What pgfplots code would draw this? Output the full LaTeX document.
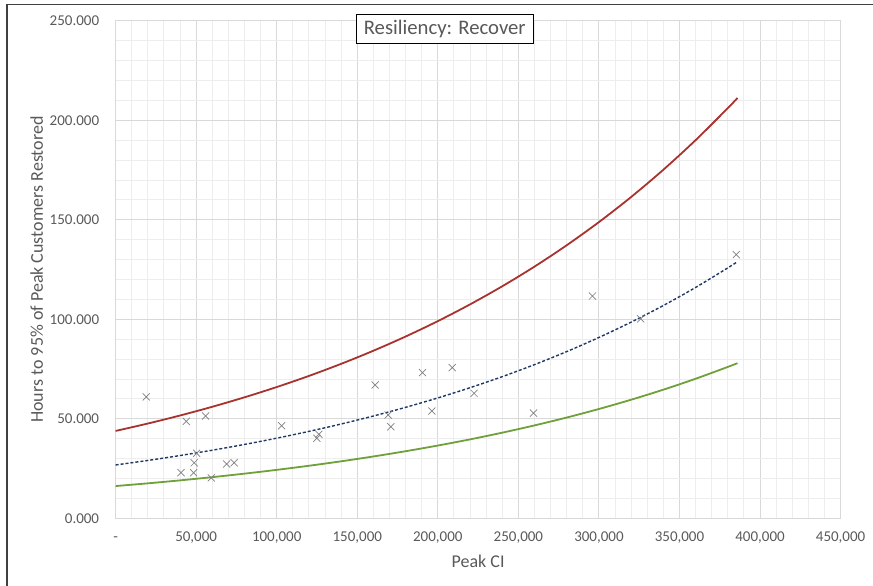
\documentclass[border=0pt]{standalone}
\usepackage{pgfplots}
\pgfplotsset{compat=1.18}
\usepackage{fontspec}
\setmainfont{Carlito}
\definecolor{txt}{HTML}{595959}
\definecolor{gridmaj}{HTML}{D9D9D9}
\definecolor{gridmin}{HTML}{EDEDED}
\definecolor{redc}{HTML}{A8322D}
\definecolor{greenc}{HTML}{70A03A}
\definecolor{navyc}{HTML}{203864}
\definecolor{markc}{HTML}{808080}
\begin{document}
\begin{tikzpicture}
\path[use as bounding box] (-115.6pt,-67.7pt) rectangle (757.4pt,518.3pt);
\draw[line width=1.5pt, color=black!75] (-108.6pt,-67.7pt) -- (-108.6pt,513.8pt) -- (757.4pt,513.8pt);
\begin{axis}[
  at={(0,0)}, anchor=south west, scale only axis,
  width=725pt, height=497.5pt,
  xmin=0, xmax=450000, ymin=0, ymax=250,
  xtick={0,50000,100000,150000,200000,250000,300000,350000,400000,450000},
  xticklabels={-,{50,000},{100,000},{150,000},{200,000},{250,000},{300,000},{350,000},{400,000},{450,000}},
  ytick={0,50,100,150,200,250},
  yticklabels={0.000,50.000,100.000,150.000,200.000,250.000},
  minor x tick num=4, minor y tick num=4,
  grid=both,
  major grid style={color=gridmaj, line width=0.9pt},
  minor grid style={color=gridmin, line width=0.9pt},
  axis line style={color=gridmaj, line width=0.9pt},
  major tick length=0pt, minor tick length=0pt,
  tick label style={font=\fontsize{15}{18}\selectfont, text=txt, inner sep=0pt},
  xticklabel style={anchor=base, yshift=-23.6pt},
  yticklabel style={anchor=base east, xshift=-16.3pt, yshift=-4.75pt},
  scaled x ticks=false, scaled y ticks=false,
  clip=false,
]
% data points
\addplot[only marks, mark=x, mark size=5pt, color=markc, mark options={line width=0.7pt}] coordinates {
(19000,61.0) (43900,48.7) (55900,51.4) (50300,32.7) (48800,27.9) (40600,22.9)
(48400,22.9) (59400,20.3) (68900,27.3) (73600,27.9) (103000,46.5) (124900,40.2)
(126200,42.2) (161100,67.0) (169200,51.9) (170800,46.0) (190500,73.2) (196300,53.9)
(208900,75.7) (222500,62.8) (259400,52.9) (296000,111.7) (325900,100.2) (385300,132.5)
};
% upper bound
\addplot[smooth, color=redc, line width=1.8pt] coordinates {
(0,43.90) (20000,47.62) (40000,51.66) (60000,56.04) (80000,60.80) (100000,65.95)
(120000,71.54) (140000,77.62) (160000,84.20) (180000,91.34) (200000,99.08)
(220000,107.49) (240000,116.60) (260000,126.48) (280000,137.21) (300000,148.85)
(320000,161.47) (340000,175.17) (360000,190.02) (380000,206.13) (386000,211.22)
};
% trend
\addplot[smooth, color=navyc, line width=1.4pt, dash pattern=on 3pt off 2pt] coordinates {
(0,26.80) (20000,29.07) (40000,31.54) (60000,34.21) (80000,37.12) (100000,40.26)
(120000,43.68) (140000,47.38) (160000,51.40) (180000,55.76) (200000,60.49)
(220000,65.62) (240000,71.18) (260000,77.22) (280000,83.77) (300000,90.87)
(320000,98.58) (340000,106.93) (360000,116.00) (380000,125.84) (386000,128.95)
};
% lower bound
\addplot[smooth, color=greenc, line width=1.8pt] coordinates {
(0,16.20) (20000,17.57) (40000,19.06) (60000,20.68) (80000,22.44) (100000,24.34)
(120000,26.40) (140000,28.64) (160000,31.07) (180000,33.71) (200000,36.56)
(220000,39.66) (240000,43.03) (260000,46.68) (280000,50.63) (300000,54.93)
(320000,59.59) (340000,64.64) (360000,70.12) (380000,76.07) (386000,77.95)
};
\node[draw=black, line width=1pt, fill=white, text=txt, inner sep=0pt,
      minimum width=176.6pt, minimum height=29.3pt,
      font=\fontsize{20.7}{24}\selectfont] at (rel axis cs:0.454,0.984) {Resiliency: Recover};
\node[anchor=base, text=txt, font=\fontsize{18}{22}\selectfont] at ([yshift=-49.5pt]rel axis cs:0.5,0) {Peak CI};
\node[anchor=base, rotate=90, text=txt, font=\fontsize{18}{22}\selectfont] at ([xshift=-72.6pt]rel axis cs:0,0.5) {Hours to 95\% of Peak Customers Restored};
\end{axis}
\end{tikzpicture}
\end{document}
